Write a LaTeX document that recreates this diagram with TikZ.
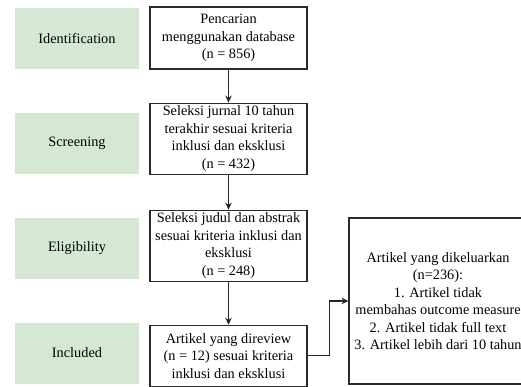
\documentclass[tikz,border=0pt]{standalone}
\usepackage{fontspec}
\setmainfont{Liberation Serif}
\usetikzlibrary{arrows.meta,positioning}
\definecolor{prGreen}{HTML}{D5E8D4}
\definecolor{prLine}{HTML}{2B2B2B}
\tikzset{
  prtext/.style={font=\fontsize{14.3}{17.5}\selectfont, align=center},
  prbox/.style={prtext, draw=prLine, line width=1.1pt, fill=white,
    inner xsep=-12pt, inner ysep=0pt, minimum width=157pt},
  stage/.style={prtext, fill=prGreen, minimum width=124pt, minimum height=61pt, inner sep=0pt},
  exclbox/.style={prbox, minimum width=178pt, minimum height=166pt},
  flow/.style={-{Stealth[length=7pt, width=6.5pt]}, line width=1.1pt, black!85}
}
\begin{document}
\begin{tikzpicture}[x=1pt, y=-1pt]
  \useasboundingbox (0,0) rectangle (521,386);
  \clip (0,0) rectangle (521,386);
  % stages
  \node[stage] (idn) at (77,38.5) {Identification};
  \node[stage] (scr) at (77,143.5) {Screening};
  \node[stage] (elg) at (77,248.5) {Eligibility};
  \node[stage] (inc) at (77,353) {Included};
  % flow boxes
  \node[prbox, minimum height=62pt] (cari) at (228.5,38) {Pencarian\\menggunakan database\\(n = 856)};
  \node[prbox, minimum height=71pt, below=33pt of cari] (jurnal) {Seleksi jurnal 10 tahun\\terakhir sesuai kriteria\\inklusi dan eksklusi\\(n = 432)};
  \node[prbox, minimum height=71pt, below=35pt of jurnal] (judul) {Seleksi judul dan abstrak\\sesuai kriteria inklusi dan\\eksklusi\\(n = 248)};
  \node[prbox, minimum height=61pt, below=43pt of judul] (review) {Artikel yang direview\\(n = 12) sesuai kriteria\\inklusi dan eksklusi};
  \node[exclbox] (keluar) at (438,301) {Artikel yang dikeluarkan\\(n=236):\\1. Artikel tidak\\membahas outcome measure\\2. Artikel tidak full text\\3. Artikel lebih dari 10 tahun};
  % arrows
  \draw[flow] (cari) -- (jurnal);
  \draw[flow] (jurnal) -- (judul);
  \draw[flow] (judul) -- (review);
  \draw[flow] (review.east) -- ++(22pt,0) |- (keluar.west);
\end{tikzpicture}
\end{document}
